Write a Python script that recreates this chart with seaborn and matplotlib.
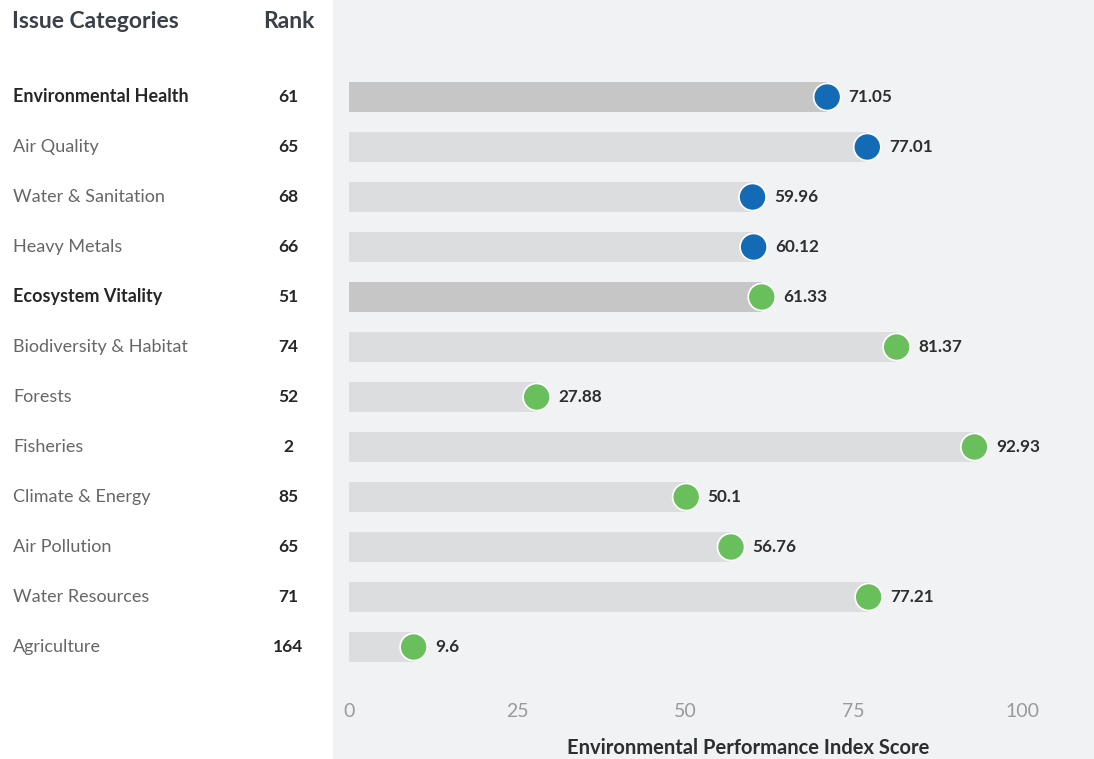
import matplotlib
matplotlib.use("Agg")
import matplotlib.pyplot as plt
import matplotlib.transforms as mtransforms
import pandas as pd
import seaborn as sns

categories = ["Environmental Health", "Air Quality", "Water & Sanitation", "Heavy Metals",
              "Ecosystem Vitality", "Biodiversity & Habitat", "Forests", "Fisheries",
              "Climate & Energy", "Air Pollution", "Water Resources", "Agriculture"]
scores = [71.05, 77.01, 59.96, 60.12, 61.33, 81.37, 27.88, 92.93, 50.1, 56.76, 77.21, 9.6]
ranks = [61, 65, 68, 66, 51, 74, 52, 2, 85, 65, 71, 164]
levels = ["policy", "issue", "issue", "issue", "policy", "issue", "issue", "issue",
          "issue", "issue", "issue", "issue"]
groups = ["Environmental Health"] * 4 + ["Ecosystem Vitality"] * 8
x_ticks = [0, 25, 50, 75, 100]

df = pd.DataFrame({"category": categories, "score": scores, "rank": ranks,
                   "level": levels, "group": groups})

sns.set_theme(style="white")
plt.rcParams["font.family"] = ["Lato", "DejaVu Sans"]

fig = plt.figure(figsize=(10.94, 7.59), dpi=100)
fig.patch.set_facecolor("white")
W, H = 1094, 759
ax = fig.add_axes([333 / W, 0, (W - 333) / W, 1])
ax.set_facecolor("#f1f2f4")

bar_colors = {"policy": "#c6c6c6", "issue": "#dcdddf"}
dot_colors = {"Environmental Health": "#136bb6", "Ecosystem Vitality": "#6abf5d"}

sns.barplot(data=df, x="score", y="category", hue="level", palette=bar_colors,
            dodge=False, width=0.6, legend=False, ax=ax, saturation=1, linewidth=0)
sns.scatterplot(data=df, x="score", y="category", hue="group", palette=dot_colors,
                s=380, edgecolor="white", linewidth=1.2, legend=False, ax=ax, zorder=5)

for i, v in enumerate(scores):
    ax.text(v + 3.2, i, f"{v:g}", va="center", ha="left", fontsize=12.3,
            fontweight="bold", color="#2e2e2e")

ax.set_xlim(-2.38, 110.7)
ax.set_ylim(13.24, -1.94)
ax.set_xticks(x_ticks)
ax.set_xticklabels([str(t) for t in x_ticks], fontsize=14, color="#9a9a9a")
ax.tick_params(axis="x", length=0, pad=-40)
ax.set_yticks([])
ax.set_ylabel("")
ax.set_xlabel("Environmental Performance Index Score", fontsize=14.5,
              fontweight="bold", color="#2e2e2e")
ax.xaxis.set_label_coords((748 - 333) / (W - 333), 11 / H)
ax.xaxis.label.set_va("center")
for s in ax.spines.values():
    s.set_visible(False)

# Left-hand table: category names and ranks
trans = mtransforms.blended_transform_factory(fig.transFigure, ax.transData)
for i, (c, r, lv) in enumerate(zip(categories, ranks, levels)):
    bold = lv == "policy"
    ax.text(13 / W, i, c, transform=trans, ha="left", va="center", fontsize=13,
            fontweight="bold" if bold else "normal",
            color="#262626" if bold else "#666666")
    ax.text(288 / W, i, str(r), transform=trans, ha="center", va="center",
            fontsize=12.5, fontweight="bold", color="#262626")

fig.text(12 / W, 1 - 21 / H, "Issue Categories", ha="left", va="center",
         fontsize=16.5, fontweight="bold", color="#3a3f48")
fig.text(289 / W, 1 - 21 / H, "Rank", ha="center", va="center",
         fontsize=16.5, fontweight="bold", color="#3a3f48")

fig.savefig("out.png", dpi=100)
